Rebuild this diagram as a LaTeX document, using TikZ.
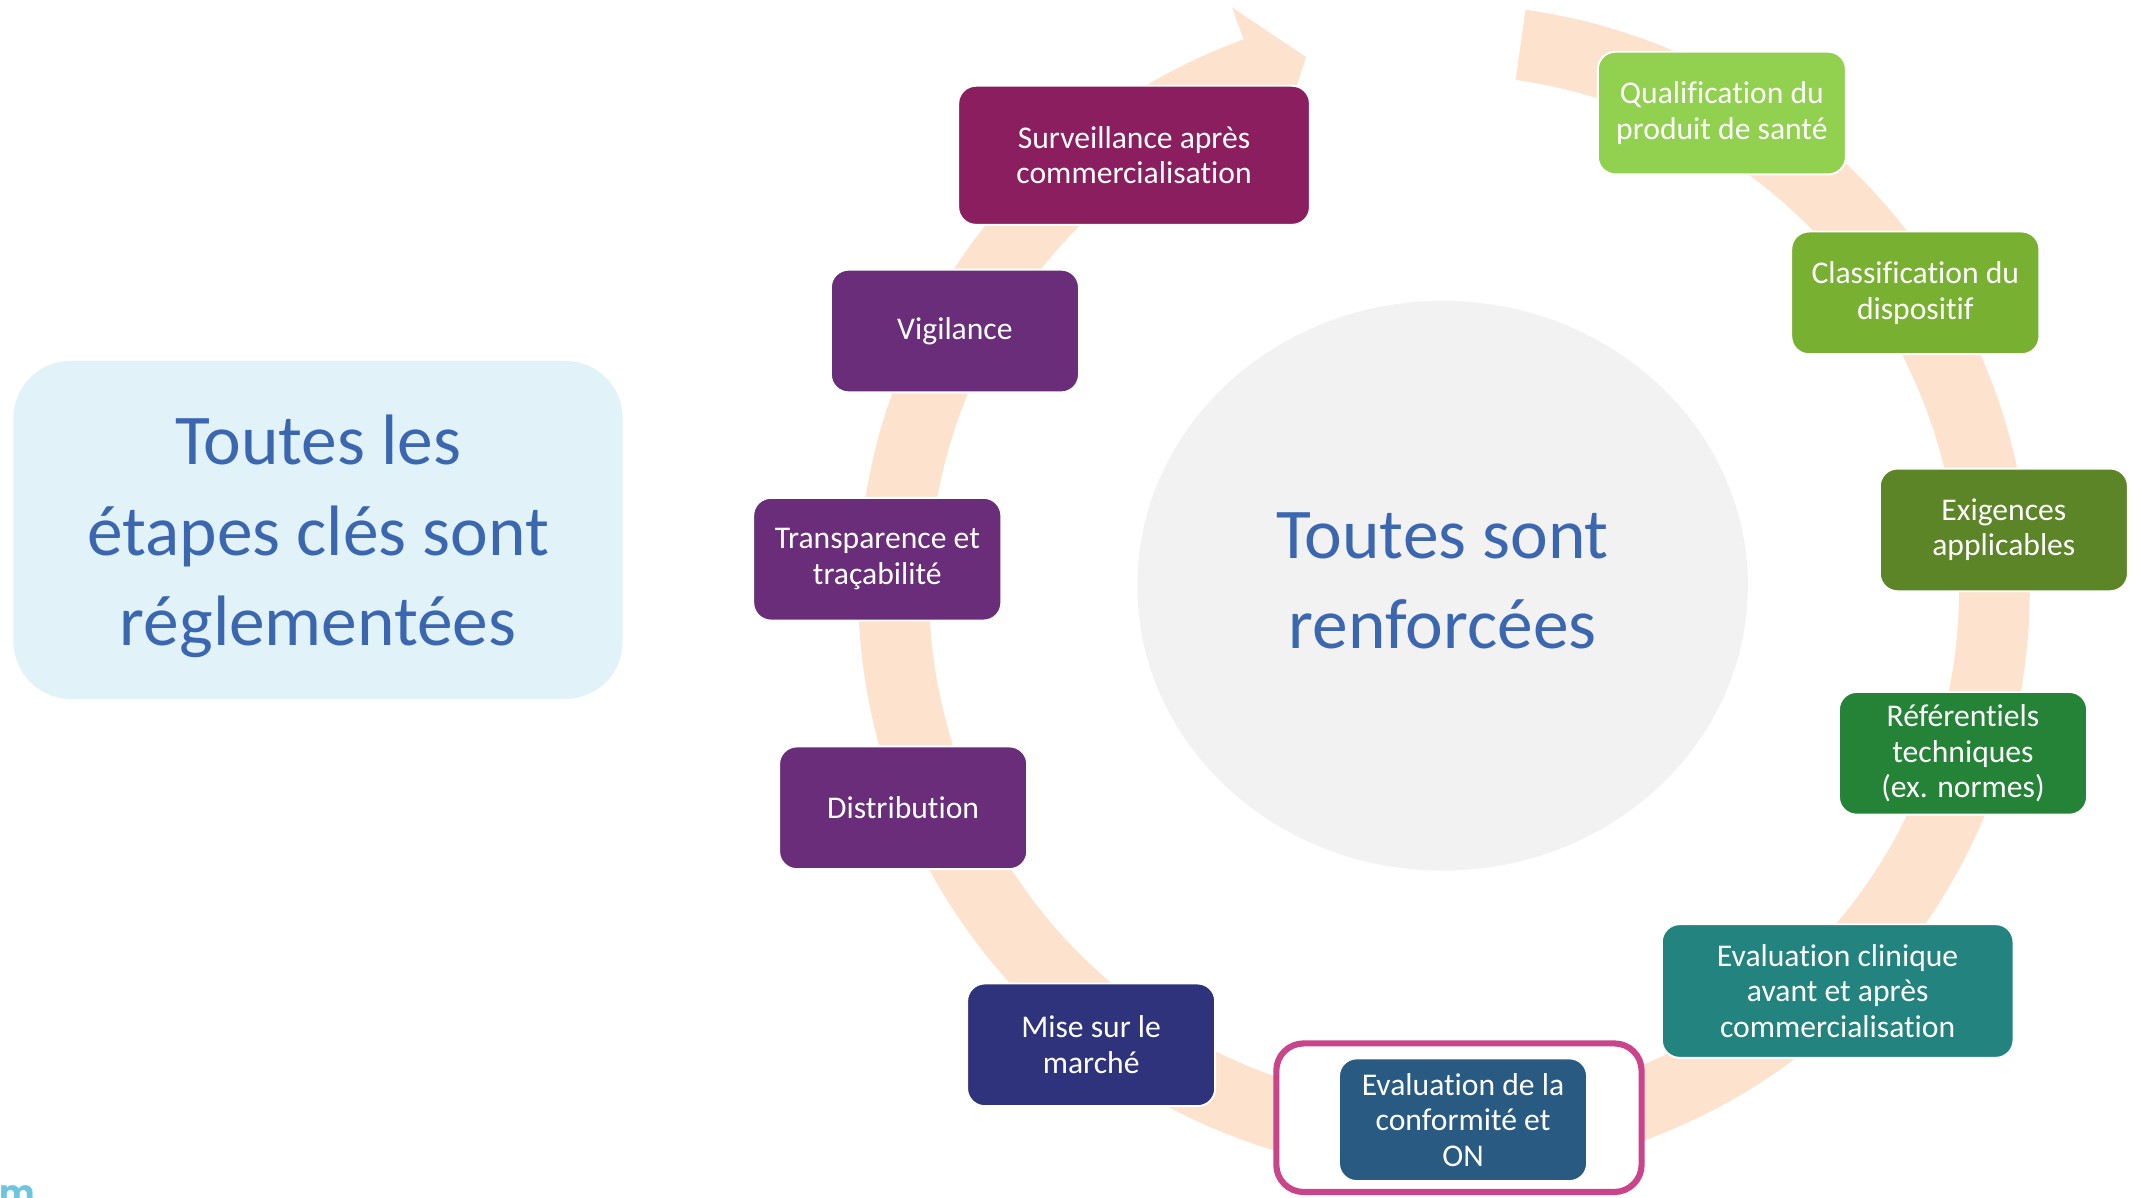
\documentclass[tikz,border=0pt]{standalone}
\usepackage{fontspec}
\setmainfont{Carlito}[Ligatures={NoCommon}]
\newfontfamily\logofont{Poppins}
\usetikzlibrary{shapes.geometric}
\definecolor{ringc}{HTML}{FDE3CE}
\definecolor{grayc}{HTML}{F2F2F2}
\definecolor{leftbg}{HTML}{E1F3F8}
\definecolor{bluetxt}{HTML}{3B66B0}
\definecolor{survc}{HTML}{8B1E5E}
\definecolor{purpc}{HTML}{692D7A}
\definecolor{misec}{HTML}{2E337C}
\definecolor{confc}{HTML}{285A82}
\definecolor{clinc}{HTML}{23837F}
\definecolor{refc}{HTML}{248336}
\definecolor{exigc}{HTML}{5B8526}
\definecolor{classc}{HTML}{78B032}
\definecolor{qualc}{HTML}{92D050}
\definecolor{pinkc}{HTML}{C9448B}
\definecolor{logoc}{HTML}{6DC6DE}
\begin{document}
\begin{tikzpicture}[x=0.01cm,y=0.01cm,
  stepbox/.style={rectangle, rounded corners=0.13cm, draw=white, line width=0.4pt,
    text=white, align=center, inner sep=0pt, minimum width=1.82cm, minimum height=0.90cm,
    font=\fontsize{6.6}{7.4}\selectfont},
  widebox/.style={stepbox, minimum width=2.58cm, minimum height=0.98cm},
  bigtext/.style={text=bluetxt, align=center, inner sep=0pt, font=\fontsize{14.9}{18.9}\selectfont}]
\useasboundingbox (0,0) rectangle (1568,879);
\clip (0,0) rectangle (1568,879);

% left box
\node[rectangle, rounded corners=0.42cm, fill=leftbg, minimum width=4.47cm,
      minimum height=2.48cm, inner sep=0pt] (left) at (233.5,490) {};
\node[bigtext] (lefttext) at (233.5,485) {Toutes les\\étapes clés sont\\réglementées};

% central circle
\node[ellipse, fill=grayc, minimum width=4.48cm, minimum height=4.18cm,
      inner sep=0pt] (centre) at (1059,449) {};
\node[bigtext] (centretext) at (1059,452.5) {Toutes sont\\renforcées};

% circular arrow
\coordinate (C) at (1060,446);
\fill[ringc] ([shift={(C)}]82:430) arc[start angle=82,end angle=-250,radius=430]
  -- ([shift={(C)}]-250:455) -- ([shift={(C)}]-255.5:404) -- ([shift={(C)}]-250:353)
  -- ([shift={(C)}]-250:378) arc[start angle=-250,end angle=82,radius=378] -- cycle;

% steps
\node[stepbox, fill=qualc] (qual) at (1264,796) {Qualification du\\produit de santé};
\node[stepbox, fill=classc] (class) at (1406,664) {Classification du\\dispositif};
\node[stepbox, fill=exigc] (exig) at (1471,490) {Exigences\\applicables};
\node[stepbox, fill=refc] (ref) at (1441,326) {Référentiels\\techniques\\(ex. normes)};
\node[widebox, fill=clinc] (clin) at (1349,151.5) {Evaluation clinique\\avant et après\\commercialisation};
\node[rectangle, rounded corners=0.2cm, draw=pinkc, fill=white, line width=0.045cm,
      minimum width=2.68cm, minimum height=1.09cm, inner sep=0pt] (frame) at (1071,58.5) {};
\node[stepbox, fill=confc] (conf) at (1074,57) {Evaluation de la\\conformité et\\ON};
\node[stepbox, fill=misec] (mise) at (801,112) {Mise sur le\\marché};
\node[stepbox, fill=purpc] (distrib) at (663,286) {Distribution};
\node[stepbox, fill=purpc] (transp) at (644,468.5) {Transparence et\\traçabilité};
\node[stepbox, fill=purpc] (vigil) at (701,636) {Vigilance};
\node[widebox, fill=survc, minimum height=1.02cm] (surv) at (832.5,765) {Surveillance après\\commercialisation};

% logo fragment
\node[anchor=base west, text=logoc, inner sep=0pt,
      font=\logofont\bfseries\fontsize{7}{7}\selectfont] (logo) at (-1,-5) {m};
\end{tikzpicture}
\end{document}
